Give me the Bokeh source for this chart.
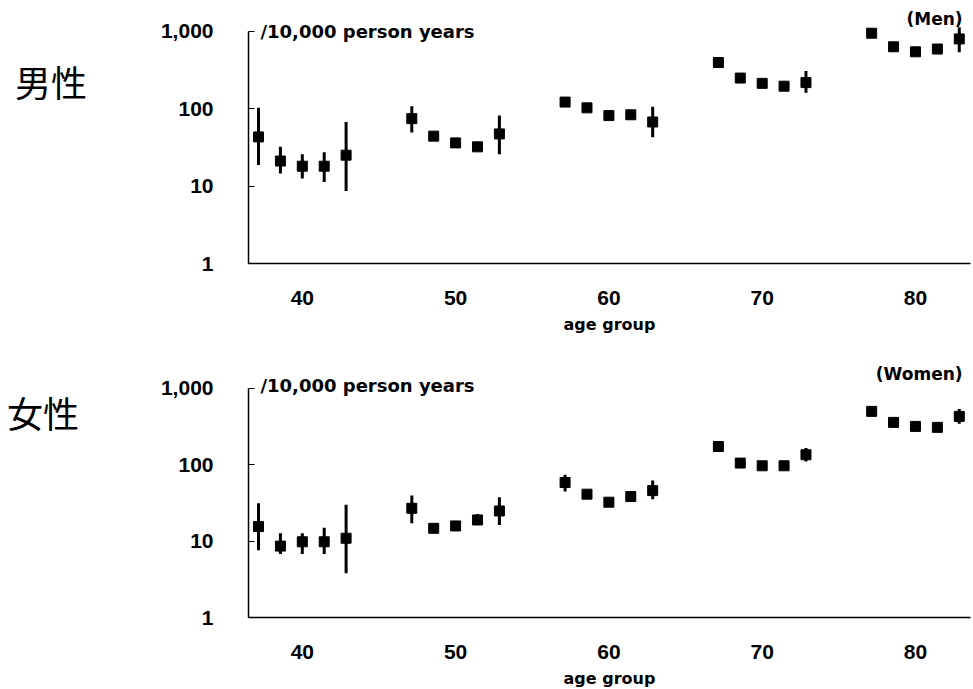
from bokeh.plotting import figure
from bokeh.layouts import column, row
from bokeh.models import Range1d, FixedTicker, NumeralTickFormatter, Label
from bokeh.core.properties import value
from bokeh.embed import file_html
from bokeh.resources import INLINE

# ---------------- data ----------------
age_groups = [40, 50, 60, 70, 80]
age_tick_labels = ["40", "50", "60", "70", "80"]
y_ticks = [1, 10, 100, 1000]

men_rate = [43, 21, 18, 18, 25,
            74, 44, 36, 32, 47,
            121, 102, 81, 83, 67,
            392, 247, 211, 194, 216,
            936, 626, 539, 585, 790]
men_lo = [18.6, 14.5, 12.5, 11.3, 8.6,
          49, 40, 33, 29, 25.6,
          105, 95, 76, 77, 42.7,
          375, 235, 200, 183, 160,
          905, 600, 515, 560, 530]
men_hi = [102, 32, 25.6, 27.2, 67,
          107, 48, 40, 35, 81.5,
          140, 110, 86, 89, 105,
          410, 260, 222, 206, 305,
          968, 653, 564, 611, 1115]

women_rate = [15.5, 8.6, 9.8, 9.8, 10.9,
              26.9, 14.7, 15.8, 18.9, 24.8,
              58.4, 41.1, 32.3, 38.3, 45.8,
              173, 105, 96.8, 96.8, 135,
              499, 358, 317, 308, 429]
women_lo = [7.6, 6.8, 6.8, 6.8, 3.8,
            17.1, 13.5, 14.5, 16.3, 16.3,
            44.5, 38.5, 30.5, 36, 35.4,
            163, 99, 91, 91, 110,
            475, 340, 300, 292, 344]
women_hi = [31.3, 12.7, 12.7, 15, 29.8,
            39.4, 16.2, 17.3, 22.7, 37.6,
            73.7, 44, 34.3, 40.7, 62,
            184, 111, 103, 103, 165,
            525, 377, 335, 325, 537]

unit_text = "/10,000 person years"

# ---------------- layout helpers ----------------
PER_GROUP = 5
STEP = 10 / 7.0  # spacing of the points inside one age group (in years)
xs = [a + (i - (PER_GROUP - 1) / 2) * STEP for a in age_groups for i in range(PER_GROUP)]

NUM_FONT = "Liberation Sans"
TXT_FONT = "DejaVu Sans"
SIDE_W = 100


def make_side(text, height, cx, cy):
    s = figure(width=SIDE_W, height=height, min_border=0,
               min_border_left=0, min_border_right=0,
               min_border_top=0, min_border_bottom=0,
               x_axis_location=None, y_axis_location=None,
               x_range=Range1d(0, SIDE_W), y_range=Range1d(height, 0),
               output_backend="svg", toolbar_location=None)
    s.outline_line_color = None
    s.xgrid.visible = False
    s.ygrid.visible = False
    s.text(x=[cx], y=[cy], text=[text], text_font=value("Noto Sans CJK JP"),
           text_font_size="36px", text_align="center", text_baseline="middle",
           text_color="black")
    return s


def make_panel(rate, lo, hi, tag, frame_h, px_dec, b_top, b_bottom,
               tag_y, unit_y):
    y_end = 10 ** (frame_h / px_dec)
    p = figure(frame_width=722, frame_height=frame_h,
               min_border_left=248 - SIDE_W, min_border_right=2,
               min_border_top=b_top, min_border_bottom=b_bottom,
               y_axis_type="log",
               x_range=Range1d(36.49, 83.59), y_range=Range1d(1, y_end),
               output_backend="svg", toolbar_location=None)
    p.outline_line_color = None
    p.xgrid.visible = False
    p.ygrid.visible = False
    p.background_fill_color = "white"
    p.border_fill_color = "white"

    # y axis
    ya = p.yaxis[0]
    ya.bounds = (1, 1000)
    ya.ticker = FixedTicker(ticks=y_ticks, minor_ticks=[])
    ya.formatter = NumeralTickFormatter(format="0,0")
    ya.major_tick_in = 6
    ya.major_tick_out = 0
    ya.minor_tick_in = 0
    ya.minor_tick_out = 0
    ya.axis_line_width = 1.5
    ya.major_tick_line_width = 1.2
    ya.major_label_standoff = 35
    ya.major_label_text_font = NUM_FONT
    ya.major_label_text_font_style = "bold"
    ya.major_label_text_font_size = "21px"
    ya.major_label_text_color = "black"

    # x axis
    xa = p.xaxis[0]
    xa.ticker = FixedTicker(ticks=age_groups, minor_ticks=[])
    xa.major_label_overrides = {a: t for a, t in zip(age_groups, age_tick_labels)}
    xa.major_tick_in = 0
    xa.major_tick_out = 0
    xa.minor_tick_in = 0
    xa.minor_tick_out = 0
    xa.axis_line_width = 1.5
    xa.major_label_standoff = 27
    xa.major_label_text_font = NUM_FONT
    xa.major_label_text_font_style = "bold"
    xa.major_label_text_font_size = "21px"
    xa.major_label_text_color = "black"
    xa.axis_label = "age group"
    xa.axis_label_standoff = 7
    xa.axis_label_text_font = TXT_FONT
    xa.axis_label_text_font_style = "bold"
    xa.axis_label_text_font_size = "16px"
    xa.axis_label_text_color = "black"

    # error bars and markers
    p.segment(x0=xs, y0=lo, x1=xs, y1=hi, line_color="black", line_width=3)
    p.scatter(x=xs, y=rate, marker="square", size=10,
              fill_color="black", line_color="black")

    p.add_layout(Label(x=37.27, y=unit_y, text=unit_text,
                       text_font=TXT_FONT, text_font_style="bold",
                       text_font_size="18px", text_baseline="middle",
                       text_color="black"))
    p.add_layout(Label(x=83.07, y=tag_y, text=tag, text_align="right",
                       text_font=TXT_FONT, text_font_style="bold",
                       text_font_size="17px", text_baseline="middle",
                       text_color="black"))
    return p


H1 = 8 + 255 + 87
H2 = 2 + 265 + 71
p1 = make_panel(men_rate, men_lo, men_hi, "(Men)",
                frame_h=255, px_dec=77.5, b_top=8, b_bottom=87,
                tag_y=1428, unit_y=1000)
p2 = make_panel(women_rate, women_lo, women_hi, "(Women)",
                frame_h=265, px_dec=76.4, b_top=2, b_bottom=71,
                tag_y=1530, unit_y=1100)
s1 = make_side("男性", H1, 50.5, 100)
s2 = make_side("女性", H2, 42.5, 77)

layout = column(row(s1, p1, spacing=0), row(s2, p2, spacing=0), spacing=0)

open("out.html", "w").write(file_html(layout, INLINE))
